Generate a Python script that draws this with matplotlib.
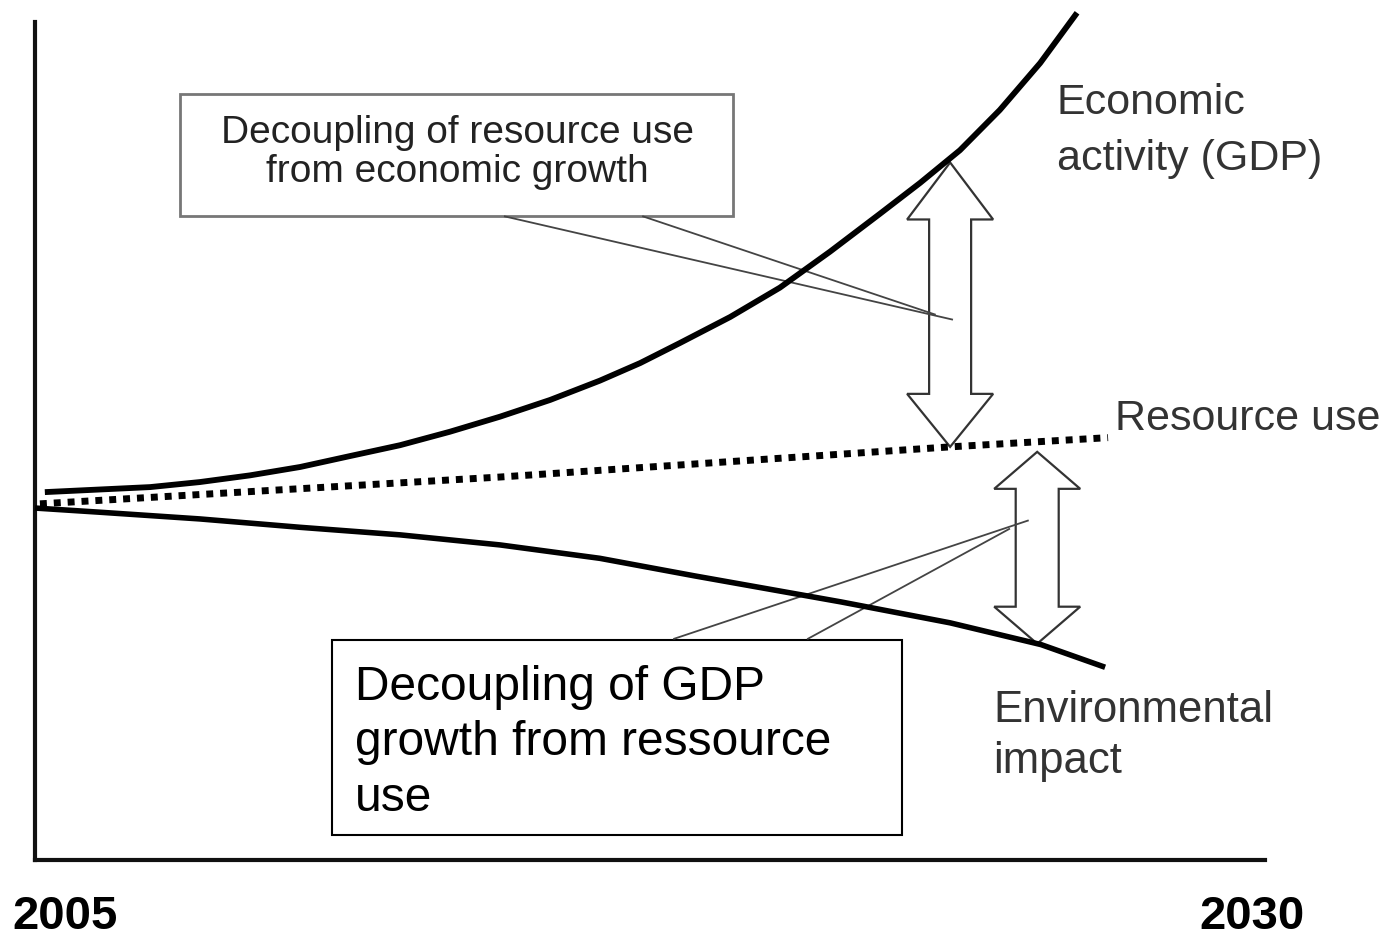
import numpy as np
import matplotlib
matplotlib.use("Agg")
import matplotlib.pyplot as plt
from matplotlib.patches import Polygon, Rectangle

plt.rcParams['font.family'] = ['Liberation Sans', 'DejaVu Sans']

# curves (x = year, y = relative index)
gdp_years = [2005.20, 2007.34, 2008.35, 2009.37, 2010.39, 2011.40, 2012.42,
             2013.43, 2014.45, 2015.47, 2016.48, 2017.30, 2018.11, 2019.13,
             2020.14, 2021.16, 2022.17, 2022.99, 2023.80, 2024.61, 2025.43,
             2026.18]
gdp_vals = [43.9, 44.5, 45.1, 45.9, 46.9, 48.2, 49.5, 51.1, 52.9, 54.9, 57.2,
            59.3, 61.7, 64.8, 68.3, 72.6, 77.1, 80.8, 84.7, 89.5, 95.1, 101.1]

res_years = [2005.10, 2014.45, 2023.60, 2026.81]
res_vals = [42.5, 45.7, 49.3, 50.4]

env_years = [2005.00, 2006.32, 2008.35, 2010.39, 2012.42, 2014.45, 2016.48,
             2018.41, 2021.38, 2023.60, 2025.45, 2026.75]
env_vals = [42.0, 41.5, 40.7, 39.7, 38.8, 37.6, 36.0, 33.9, 30.8, 28.3, 25.7, 23.0]

year_labels = ['2005', '2030']

box1_text = 'Decoupling of resource use\nfrom economic growth'
box2_text = 'Decoupling of GDP\ngrowth from ressource\nuse'

# pixel -> data helpers (axes spans 1230 px for 25 years, 838 px for 100)
PX_X = 25 / 1230
PX_Y = 100 / 838


def double_arrow(ax, x, top, bot, head_top, head_bot, head_half=43, shaft_half=21):
    hw = head_half * PX_X
    sw = shaft_half * PX_X
    ht = head_top * PX_Y
    hb = head_bot * PX_Y
    pts = [(x, top), (x + hw, top - ht), (x + sw, top - ht), (x + sw, bot + hb),
           (x + hw, bot + hb), (x, bot), (x - hw, bot + hb), (x - sw, bot + hb),
           (x - sw, top - ht), (x - hw, top - ht)]
    ax.add_patch(Polygon(pts, closed=True, fc='white', ec='#333333', lw=1.6,
                         zorder=1, clip_on=False))


fig = plt.figure(figsize=(13.92, 9.38), dpi=100)
ax = fig.add_axes([35 / 1392, 78 / 938, 1230 / 1392, 838 / 938])
ax.set_xlim(2005, 2030)
ax.set_ylim(0, 100)
for s in ['top', 'right']:
    ax.spines[s].set_visible(False)
for s in ['left', 'bottom']:
    ax.spines[s].set_linewidth(3)
    ax.spines[s].set_color('#111111')
ax.set_xticks([])
ax.set_yticks([])

# curves
ax.plot(gdp_years, gdp_vals, color='black', lw=4.2, solid_capstyle='butt',
        solid_joinstyle='round', clip_on=False, zorder=3)
ax.plot(res_years, res_vals, color='black', lw=5, linestyle=(0, (1, 1)),
        dash_capstyle='butt', clip_on=False, zorder=3)
ax.plot(env_years, env_vals, color='black', lw=4, solid_capstyle='butt',
        solid_joinstyle='round', clip_on=False, zorder=3)

# double arrows between the curves
x1 = 2023.60
double_arrow(ax, x1, np.interp(x1, gdp_years, gdp_vals) - 0.5,
             np.interp(x1, res_years, res_vals), 57, 53)
x2 = 2025.37
double_arrow(ax, x2, np.interp(x2, res_years, res_vals) - 1.2,
             np.interp(x2, env_years, env_vals), 37, 37, shaft_half=21.5)

# callout boxes
ax.add_patch(Rectangle((2007.95, 76.8), 11.24, 14.6, fc='white', ec='#777777',
                       lw=2, zorder=2, clip_on=False))
ax.text(2013.58, 84.4, box1_text, ha='center', va='center', fontsize=28,
        color='#222222', linespacing=1.1, zorder=4)

ax.add_patch(Rectangle((2011.04, 3.0), 11.58, 23.2, fc='white', ec='black',
                       lw=1.5, zorder=2, clip_on=False))
ax.text(2011.50, 14.0, box2_text, ha='left', va='center', fontsize=34.5,
        color='black', linespacing=1.3, zorder=4)

# leader lines
leaders = [((2014.55, 76.8), (2023.64, 64.5)),
           ((2017.36, 76.8), (2023.29, 65.1)),
           ((2017.99, 26.4), (2025.18, 40.5)),
           ((2020.71, 26.4), (2024.80, 39.5))]
for (xa, ya), (xb, yb) in leaders:
    ax.plot([xa, xb], [ya, yb], color='#444444', lw=1.3, zorder=2.5,
            clip_on=False)

# curve labels
ax.text(2025.77, 87.0, 'Economic\nactivity (GDP)', ha='left', va='center',
        fontsize=31, color='#333333', linespacing=1.5)
ax.text(2026.95, 52.6, 'Resource use', ha='left', va='center',
        fontsize=31, color='#333333')
ax.text(2024.47, 14.8, 'Environmental\nimpact', ha='left', va='center',
        fontsize=31.5, color='#333333', linespacing=1.3)

# year labels below the axis
fig.text(65 / 1392, 1 - 917 / 938, year_labels[0], ha='center', va='center',
         fontsize=34, fontweight='bold', color='black')
fig.text(1252 / 1392, 1 - 917 / 938, year_labels[1], ha='center', va='center',
         fontsize=34, fontweight='bold', color='black')

fig.savefig('out.png', dpi=100)
